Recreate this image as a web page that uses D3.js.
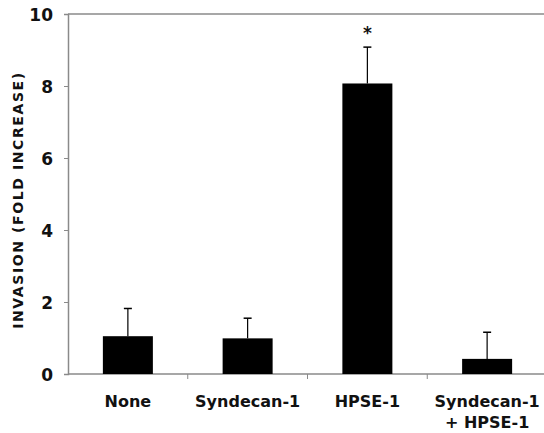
<!DOCTYPE html>
<html>
<head>
<meta charset="utf-8">
<script src="https://cdn.jsdelivr.net/npm/d3@7"></script>
<style>
  body { margin: 0; background: #fff; }
  text { font-family: "DejaVu Sans", sans-serif; font-weight: bold; fill: #111; }
</style>
</head>
<body>
<script>
"use strict";
// values
const groups = ["None", "Syndecan-1", "HPSE-1", "Syndecan-1\n+ HPSE-1"];
const means = [1.05, 0.99, 8.07, 0.42];
const errors = [0.77, 0.56, 1.01, 0.74];
const significant = [false, false, true, false];
const yTicks = [0, 2, 4, 6, 8, 10];

const width = 544, height = 433;
const svg = d3.select("body").append("svg")
    .attr("width", width)
    .attr("height", height);

const x = d3.scaleBand().domain(groups).range([68, 547]);
const y = d3.scaleLinear().domain([0, 10]).range([374, 14]);
const axisColor = "#8a8a8a";
const barW = 50;

// top frame line
svg.append("line")
    .attr("x1", 68).attr("x2", width)
    .attr("y1", y(10)).attr("y2", y(10))
    .attr("stroke", axisColor).attr("stroke-width", 1.5);

// y axis
const yAxis = svg.append("g")
    .attr("transform", "translate(68,0)")
    .call(d3.axisLeft(y).tickValues(yTicks).tickSize(4).tickPadding(11));
yAxis.select(".domain").attr("stroke", axisColor).attr("stroke-width", 1.5);
yAxis.selectAll(".tick line").attr("stroke", axisColor);
yAxis.selectAll(".tick text")
    .style("font-size", "17px").attr("dy", "0.36em").attr("fill", "#111");

// x axis with ticks on band boundaries
svg.append("line")
    .attr("x1", 68).attr("x2", width)
    .attr("y1", y(0)).attr("y2", y(0))
    .attr("stroke", axisColor).attr("stroke-width", 1.5);
svg.selectAll(".xtick")
    .data(groups.slice(1))
    .enter().append("line")
    .attr("x1", d => x(d)).attr("x2", d => x(d))
    .attr("y1", y(0)).attr("y2", y(0) + 5)
    .attr("stroke", axisColor);

// category labels
const labels = svg.selectAll(".xlabel")
    .data(groups)
    .enter().append("text")
    .attr("text-anchor", "middle")
    .style("font-size", "16px")
    .attr("transform", d => `translate(${x(d) + x.bandwidth() / 2},407)`);
labels.selectAll("tspan")
    .data(d => d.split("\n"))
    .enter().append("tspan")
    .attr("x", 0)
    .attr("y", (d, i) => i * 21)
    .text(d => d);

// error bars
svg.selectAll(".err")
    .data(groups)
    .enter().append("line")
    .attr("x1", d => x(d) + x.bandwidth() / 2)
    .attr("x2", d => x(d) + x.bandwidth() / 2)
    .attr("y1", (d, i) => y(means[i]))
    .attr("y2", (d, i) => y(means[i] + errors[i]))
    .attr("stroke", "#000").attr("stroke-width", 1.2);
svg.selectAll(".cap")
    .data(groups)
    .enter().append("line")
    .attr("x1", d => x(d) + x.bandwidth() / 2 - 4)
    .attr("x2", d => x(d) + x.bandwidth() / 2 + 4)
    .attr("y1", (d, i) => y(means[i] + errors[i]))
    .attr("y2", (d, i) => y(means[i] + errors[i]))
    .attr("stroke", "#000").attr("stroke-width", 1.5);

// bars
svg.selectAll(".bar")
    .data(groups)
    .enter().append("rect")
    .attr("x", d => x(d) + x.bandwidth() / 2 - barW / 2)
    .attr("width", barW)
    .attr("y", (d, i) => y(means[i]))
    .attr("height", (d, i) => y(0) - y(means[i]))
    .attr("fill", "#000");

// significance marker
svg.selectAll(".star")
    .data(groups.filter((d, i) => significant[i]))
    .enter().append("text")
    .attr("text-anchor", "middle")
    .style("font-size", "17px")
    .attr("x", d => x(d) + x.bandwidth() / 2)
    .attr("y", d => y(means[groups.indexOf(d)] + errors[groups.indexOf(d)]) - 8)
    .text("*");

// y title
svg.append("text")
    .attr("transform", "translate(23,200) rotate(-90)")
    .attr("text-anchor", "middle")
    .style("font-size", "14px")
    .style("letter-spacing", "1.6px")
    .text("INVASION (FOLD INCREASE)");
</script>
</body>
</html>
